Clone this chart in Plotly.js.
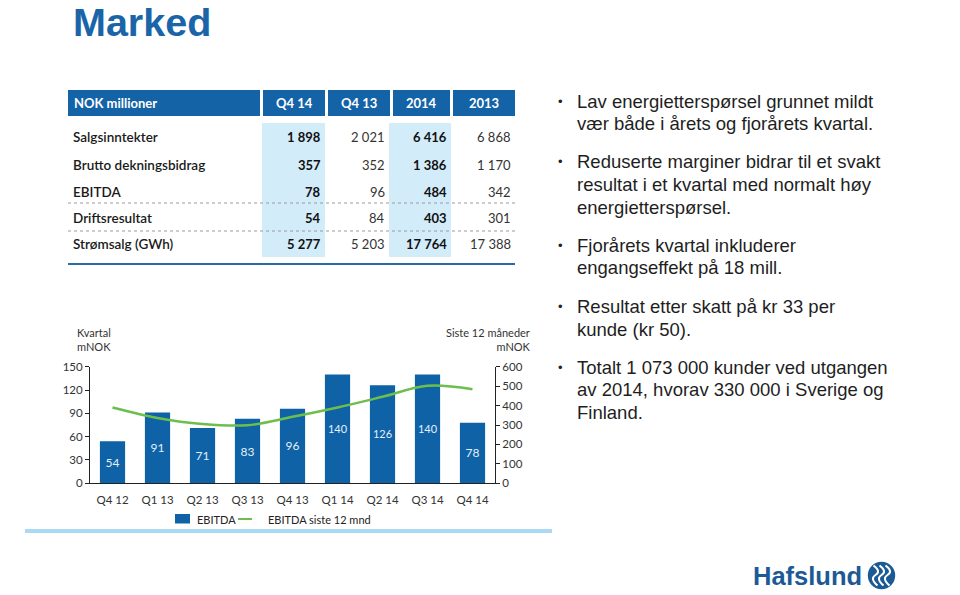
<!DOCTYPE html>
<html>
<head>
<meta charset="utf-8">
<script src="https://cdn.plot.ly/plotly-3.0.1.min.js"></script>
<style>html,body{margin:0;padding:0;background:#fff;}#chart{width:960px;height:595px;}</style>
</head>
<body>
<div id="chart"></div>
<script>
// ---- Data ----
const quarters = ['Q4 12','Q1 13','Q2 13','Q3 13','Q4 13','Q1 14','Q2 14','Q3 14','Q4 14'];
const ebitda = [54, 91, 71, 83, 96, 140, 126, 140, 78];
const ebitda12m = [390, 336, 305, 299, 342, 390, 445, 502, 484];
const seriesNames = ['EBITDA', 'EBITDA siste 12 mnd'];

const tableHeaders = ['NOK millioner', 'Q4 14', 'Q4 13', '2014', '2013'];
const rowLabels = ['Salgsinntekter', 'Brutto dekningsbidrag', 'EBITDA', 'Driftsresultat', 'Strømsalg (GWh)'];
const colQ414 = [1898, 357, 78, 54, 5277];
const colQ413 = [2021, 352, 96, 84, 5203];
const col2014 = [6416, 1386, 484, 403, 17764];
const col2013 = [6868, 1170, 342, 301, 17388];

const bullets = [
  ['Lav energietterspørsel grunnet mildt', 'vær både i årets og fjorårets kvartal.'],
  ['Reduserte marginer bidrar til et svakt', 'resultat i et kvartal med normalt høy', 'energietterspørsel.'],
  ['Fjorårets kvartal inkluderer', 'engangseffekt på 18 mill.'],
  ['Resultat etter skatt på kr 33 per', 'kunde (kr 50).'],
  ['Totalt 1 073 000 kunder ved utgangen', 'av 2014, hvorav 330 000 i Sverige og', 'Finland.']
];

// ---- Layout helpers ----
const W = 960, H = 595;
const X = p => p / W;
const Y = p => 1 - p / H;
const fmt = n => String(n).replace(/\B(?=(\d{3})+(?!\d))/g, ' ');

const BLUE = '#1463a6';
const BAR = '#0f62a6';
const GREEN = '#6cbf4c';
const LIGHT = '#d3ecfa';
const TFONT = 'Lato, "Open Sans", sans-serif';
const AFONT = '"Liberation Sans", Arial, sans-serif';

const shapes = [];
const annotations = [];

// Title
annotations.push({xref:'paper', yref:'paper', x:X(71), y:Y(22), xanchor:'left', yanchor:'middle',
  text:'<b>Marked</b>', showarrow:false, font:{family:AFONT, size:39.5, color:'#1a64a8'}});

// Table header cells
const hdrCells = [[68,260],[263,325],[328,390],[393,450],[453,515]];
hdrCells.forEach((c, i) => {
  shapes.push({type:'rect', xref:'paper', yref:'paper', x0:X(c[0]), x1:X(c[1]), y0:Y(116), y1:Y(90),
    fillcolor:BLUE, line:{width:0}, layer:'below'});
  annotations.push({xref:'paper', yref:'paper', x: i === 0 ? X(72) : X((c[0]+c[1])/2), y:Y(103),
    xanchor: i === 0 ? 'left' : 'center', yanchor:'middle', showarrow:false,
    text:'<b>' + tableHeaders[i] + '</b>', font:{family:TFONT, size:13, color:'#ffffff'}});
});
// Highlighted columns
[[262,325],[389,451]].forEach(c => {
  shapes.push({type:'rect', xref:'paper', yref:'paper', x0:X(c[0]), x1:X(c[1]), y0:Y(257), y1:Y(123),
    fillcolor:LIGHT, line:{width:0}, layer:'below'});
});
// Separators
[203, 231].forEach(y => shapes.push({type:'line', xref:'paper', yref:'paper', x0:X(68), x1:X(515), y0:Y(y), y1:Y(y),
  line:{color:'#9a9a9a', width:1, dash:'dot'}}));
shapes.push({type:'line', xref:'paper', yref:'paper', x0:X(68), x1:X(515), y0:Y(264), y1:Y(264),
  line:{color:'#2a6aa5', width:2}});

// Table rows
const rowY = [137, 165, 192, 218, 244];
const cols = [colQ414, colQ413, col2014, col2013];
const colRight = [323, 387, 449, 513];
const colBold = [true, false, true, false];
rowLabels.forEach((lab, r) => {
  annotations.push({xref:'paper', yref:'paper', x:X(71), y:Y(rowY[r]), xanchor:'left', yanchor:'middle',
    showarrow:false, text:lab, font:{family:TFONT, size:13.5, color:'#1a1a1a', weight:600}});
  cols.forEach((col, c) => {
    annotations.push({xref:'paper', yref:'paper', x:X(colRight[c]), y:Y(rowY[r]), xanchor:'right', yanchor:'middle',
      showarrow:false, text: colBold[c] ? '<b>' + fmt(col[r]) + '</b>' : fmt(col[r]),
      font:{family:TFONT, size:13, color: colBold[c] ? '#111' : '#333'}});
  });
});

// Chart captions
annotations.push({xref:'paper', yref:'paper', x:X(75), y:Y(339), xanchor:'left', yanchor:'middle', showarrow:false,
  align:'left', text:'Kvartal<br>mNOK', font:{family:TFONT, size:11, color:'#333'}});
annotations.push({xref:'paper', yref:'paper', x:X(533), y:Y(339), xanchor:'right', yanchor:'middle', showarrow:false,
  align:'right', text:'Siste 12 måneder<br>mNOK', font:{family:TFONT, size:11, color:'#333'}});

// Legend (drawn to match reference placement)
shapes.push({type:'rect', xref:'paper', yref:'paper', x0:X(175), x1:X(190), y0:Y(523.5), y1:Y(514),
  fillcolor:BAR, line:{width:0}});
annotations.push({xref:'paper', yref:'paper', x:X(195), y:Y(519), xanchor:'left', yanchor:'middle', showarrow:false,
  text:seriesNames[0], font:{family:TFONT, size:11, color:'#222'}});
shapes.push({type:'line', xref:'paper', yref:'paper', x0:X(238), x1:X(252), y0:Y(519), y1:Y(519),
  line:{color:GREEN, width:2}});
annotations.push({xref:'paper', yref:'paper', x:X(266), y:Y(519), xanchor:'left', yanchor:'middle', showarrow:false,
  text:seriesNames[1], font:{family:TFONT, size:11, color:'#222'}});

// Bottom light-blue rule
shapes.push({type:'line', xref:'paper', yref:'paper', x0:X(25), x1:X(552), y0:Y(531), y1:Y(531),
  line:{color:'#aad9f5', width:4}});

// Bullets
const bulletStart = [101, 162, 245, 306.5, 367];
const LH = 22.5;
bullets.forEach((lines, b) => {
  annotations.push({xref:'paper', yref:'paper', x:X(560), y:Y(bulletStart[b]), xanchor:'center', yanchor:'middle',
    showarrow:false, text:'•', font:{family:AFONT, size:13, color:'#222'}});
  lines.forEach((t, i) => {
    annotations.push({xref:'paper', yref:'paper', x:X(575), y:Y(bulletStart[b] + i*LH), xanchor:'left', yanchor:'middle',
      showarrow:false, text:t, font:{family:AFONT, size:18.5, color:'#1e1e1e'}});
  });
});

// Logo
const LOGO = '#1c5a96';
annotations.push({xref:'paper', yref:'paper', x:X(751), y:Y(576), xanchor:'left', yanchor:'middle', showarrow:false,
  text:'<b>Hafslund</b>', font:{family:AFONT, size:25.5, color:LOGO}});
const cx = 881.5, cy = 575.5, rr = 13.7;
shapes.push({type:'circle', xref:'paper', yref:'paper', x0:X(cx-rr), x1:X(cx+rr), y0:Y(cy+rr), y1:Y(cy-rr),
  fillcolor:LOGO, line:{width:0}});
const wave = (dx) => {
  const pts = [[cx+dx-2, cy-10],[cx+dx+3, cy-4],[cx+dx-3, cy+3],[cx+dx+2, cy+10]];
  return 'M' + X(pts[0][0]) + ',' + Y(pts[0][1]) + ' Q' + X(pts[1][0]+3) + ',' + Y(pts[1][1]) + ' ' +
    X((pts[1][0]+pts[2][0])/2) + ',' + Y((pts[1][1]+pts[2][1])/2) + ' T' + X(pts[3][0]) + ',' + Y(pts[3][1]);
};
[-6, 0, 6].forEach(d => shapes.push({type:'path', xref:'paper', yref:'paper', path:wave(d),
  line:{color:'#ffffff', width:2}}));

// ---- Traces ----
const traces = [
  {type:'bar', name:seriesNames[0], x:quarters, y:ebitda, marker:{color:BAR}, width:0.56,
   text:ebitda.map(String), textposition:'inside', insidetextanchor:'middle', textangle:0,
   textfont:{family:TFONT, size:12, color:'#e3f0fa'}, hoverinfo:'skip', xaxis:'x', yaxis:'y'},
  {type:'scatter', mode:'lines', name:seriesNames[1], x:quarters, y:ebitda12m,
   line:{color:GREEN, width:2.5, shape:'spline', smoothing:1}, xaxis:'x', yaxis:'y2', hoverinfo:'skip'}
];

const layout = {
  width:W, height:H, margin:{l:0, r:0, t:0, b:0},
  paper_bgcolor:'#ffffff', plot_bgcolor:'rgba(0,0,0,0)',
  showlegend:false,
  font:{family:TFONT, size:11, color:'#333'},
  xaxis:{domain:[X(90), X(495)], range:[-0.5, 8.5], type:'category', anchor:'y',
    showline:true, linecolor:'#222', linewidth:1, ticks:'', showgrid:false, zeroline:false,
    ticklabelstandoff:6,
    tickfont:{family:TFONT, size:11.5, color:'#333'}, fixedrange:true},
  yaxis:{domain:[Y(483.3), Y(366.7)], range:[0,150], dtick:30, tick0:0, anchor:'x',
    showline:true, linecolor:'#222', linewidth:1, ticks:'outside', ticklen:4, tickcolor:'#222',
    showgrid:false, zeroline:false, tickfont:{family:TFONT, size:11.5, color:'#333'}},
  yaxis2:{overlaying:'y', side:'right', anchor:'x', range:[0,600], dtick:100, tick0:0,
    showline:true, linecolor:'#222', linewidth:1, ticks:'outside', ticklen:4, tickcolor:'#222',
    showgrid:false, zeroline:false, tickfont:{family:TFONT, size:11.5, color:'#333'}},
  shapes:shapes,
  annotations:annotations
};

Plotly.newPlot('chart', traces, layout, {staticPlot:true, displayModeBar:false});
</script>
</body>
</html>
